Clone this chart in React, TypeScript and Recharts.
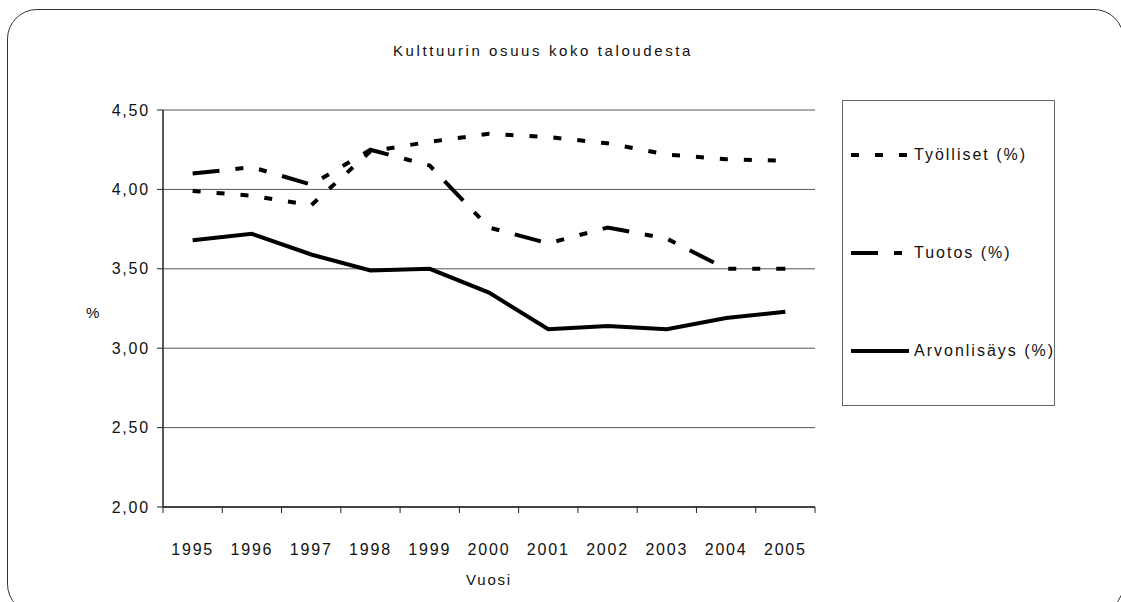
import { LineChart, Line, XAxis, YAxis, CartesianGrid, Legend } from "recharts"

const years = ["1995", "1996", "1997", "1998", "1999", "2000", "2001", "2002", "2003", "2004", "2005"]
const tyolliset = [3.99, 3.96, 3.9, 4.24, 4.3, 4.35, 4.33, 4.29, 4.22, 4.19, 4.18]
const tuotos = [4.1, 4.14, 4.03, 4.25, 4.15, 3.76, 3.66, 3.76, 3.69, 3.5, 3.5]
const arvonlisays = [3.68, 3.72, 3.59, 3.49, 3.5, 3.35, 3.12, 3.14, 3.12, 3.19, 3.23]
const yTicks = [2, 2.5, 3, 3.5, 4, 4.5]

const series = [
  { key: "tyolliset", name: "Työlliset (%)", dash: "8 16" },
  { key: "tuotos", name: "Tuotos (%)", dash: "27 16 8 16 8 16" },
  { key: "arvonlisays", name: "Arvonlisäys (%)", dash: undefined },
]

const data = years.map((year, i) => ({
  i,
  year,
  tyolliset: tyolliset[i],
  tuotos: tuotos[i],
  arvonlisays: arvonlisays[i],
}))

const bandEdges = [...years.map((_, i) => i - 0.5), years.length - 0.5]
const domain = [-0.5, years.length - 0.5]

const font = "'Liberation Sans', Arial, sans-serif"
const textStyle = { fontFamily: font, fontSize: 16, fill: "#111", letterSpacing: 1.8 }

function LegendBox() {
  return (
    <div style={{ position: "relative", width: "100%", height: "100%", boxSizing: "border-box", border: "1px solid #666" }}>
      {series.map((s, idx) => (
        <div
          key={s.key}
          style={{ position: "absolute", left: 8, top: 45 + idx * 98, display: "flex", alignItems: "center" }}
        >
          <svg width={58} height={10}>
            <line x1={0} y1={5} x2={58} y2={5} stroke="#000" strokeWidth={4} strokeDasharray={s.dash} />
          </svg>
          <span style={{ marginLeft: 5, fontFamily: font, fontSize: 16, letterSpacing: 2, color: "#111", whiteSpace: "nowrap" }}>
            {s.name}
          </span>
        </div>
      ))}
    </div>
  )
}

export default function App() {
  return (
    <div style={{ position: "absolute", left: 0, top: 0, width: 1121, height: 602, overflow: "hidden", background: "#fff" }}>
      <div
        style={{
          position: "absolute",
          left: 7,
          top: 9,
          width: 1115,
          height: 603,
          border: "1.5px solid #333",
          borderRadius: 30,
        }}
      />
      <div
        style={{
          position: "absolute",
          left: 293,
          top: 42,
          width: 500,
          textAlign: "center",
          fontFamily: font,
          fontSize: 15,
          letterSpacing: 2.6,
          color: "#111",
        }}
      >
        Kulttuurin osuus koko taloudesta
      </div>
      <LineChart width={1121} height={602} data={data} margin={{ top: 110, right: 306, bottom: 0, left: 0 }}>
        <CartesianGrid horizontal vertical={false} stroke="#555" />
        <XAxis
          xAxisId="edges"
          dataKey="i"
          type="number"
          domain={domain}
          ticks={bandEdges}
          height={1}
          tick={() => <g />}
          tickLine={{ stroke: "#222" }}
          tickSize={6}
          stroke="#222"
          axisLine={{ stroke: "#222", strokeWidth: 1.5 }}
        />
        <XAxis
          xAxisId="lbl"
          dataKey="i"
          type="number"
          domain={domain}
          ticks={years.map((_, i) => i)}
          tickFormatter={(v) => years[v]}
          height={94}
          axisLine={false}
          tickLine={false}
          tickSize={6}
          tickMargin={30}
          tick={textStyle}
          label={{ value: "Vuosi", position: "insideBottom", offset: 17, style: { ...textStyle, fontSize: 15 } }}
        />
        <YAxis
          domain={[2, 4.5]}
          ticks={yTicks}
          width={163}
          tickSize={6}
          tickMargin={7}
          stroke="#222"
          axisLine={{ stroke: "#222", strokeWidth: 1.5 }}
          tick={textStyle}
          tickFormatter={(v) => v.toFixed(2).replace(".", ",")}
          label={{ value: "%", position: "insideLeft", offset: 86, dy: 4, style: { ...textStyle, fontSize: 15 } }}
        />
        <YAxis
          yAxisId="right"
          orientation="right"
          domain={[2, 4.5]}
          width={0}
          tick={false}
          tickLine={false}
          axisLine={{ stroke: "#888" }}
        />
        {series.map((s) => (
          <Line
            key={s.key}
            xAxisId="lbl"
            type="linear"
            dataKey={s.key}
            name={s.name}
            stroke="#000"
            strokeWidth={4}
            strokeDasharray={s.dash}
            dot={false}
            activeDot={false}
            isAnimationActive={false}
          />
        ))}
        <Legend
          layout="vertical"
          align="center"
          verticalAlign="middle"
          content={() => <LegendBox />}
          wrapperStyle={{ left: 842, top: 100, width: 213, height: 306 }}
        />
      </LineChart>
    </div>
  )
}
